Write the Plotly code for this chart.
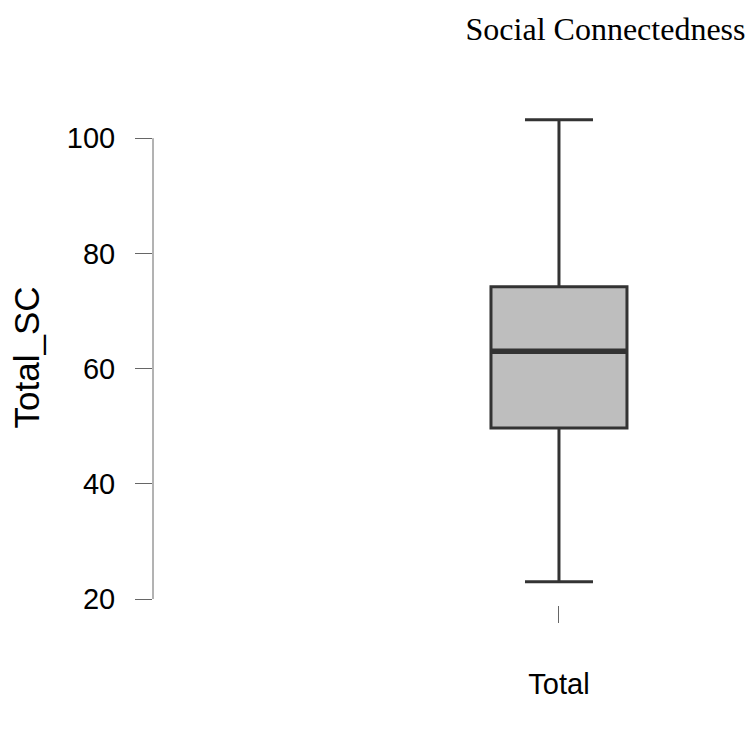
import plotly.graph_objects as go

# Summary statistics for the Total_SC score
categories = ["Total"]
q1 = [49.7]
median = [63.0]
q3 = [74.2]
lower_fence = [23.0]
upper_fence = [103.2]
y_ticks = [20, 40, 60, 80, 100]

BOX_WIDTH = 0.4714
LINE_COLOR = "#333333"
AXIS_COLOR = "#666666"

fig = go.Figure()
fig.add_trace(go.Box(
    x=categories,
    q1=q1, median=median, q3=q3,
    lowerfence=lower_fence, upperfence=upper_fence,
    width=BOX_WIDTH,
    whiskerwidth=0.5,
    fillcolor="#BEBEBE",
    line=dict(color=LINE_COLOR, width=3),
    boxpoints=False,
    hoverinfo="skip",
    showlegend=False,
))

# thicker median bar drawn over the box
for i, m in enumerate(median):
    fig.add_shape(type="line", xref="x", yref="y",
                  x0=i - BOX_WIDTH / 2, x1=i + BOX_WIDTH / 2, y0=m, y1=m,
                  line=dict(color=LINE_COLOR, width=5.5), layer="above")

# y axis line spanning only the tick range
fig.add_shape(type="line", xref="paper", yref="y",
              x0=0, x1=0, y0=min(y_ticks), y1=max(y_ticks),
              line=dict(color=AXIS_COLOR, width=1))

fig.update_layout(
    width=750, height=730,
    margin=dict(l=153, r=20, t=110, b=125),
    paper_bgcolor="white", plot_bgcolor="white",
    font=dict(family="Liberation Sans, Arial, sans-serif", size=29, color="black"),
    title=dict(text="Social Connectedness", xref="container", yref="container",
               x=0.994, xanchor="right", y=0.96, yanchor="middle",
               font=dict(family="Liberation Serif, Times New Roman, serif", size=32, color="black")),
    xaxis=dict(type="category", range=[-1.4072, 0.5928],
               showline=False, showgrid=False, zeroline=False,
               ticks="outside", ticklen=17, tickwidth=1, tickcolor=AXIS_COLOR,
               ticklabelstandoff=36),
    yaxis=dict(range=[18.96, 104.9], tickvals=y_ticks,
               showline=False, showgrid=False, zeroline=False,
               ticks="outside", ticklen=17, tickwidth=1, tickcolor=AXIS_COLOR,
               ticklabelstandoff=14,
               title=dict(text="Total_SC", standoff=16)),
)

fig.write_html("out.html")
